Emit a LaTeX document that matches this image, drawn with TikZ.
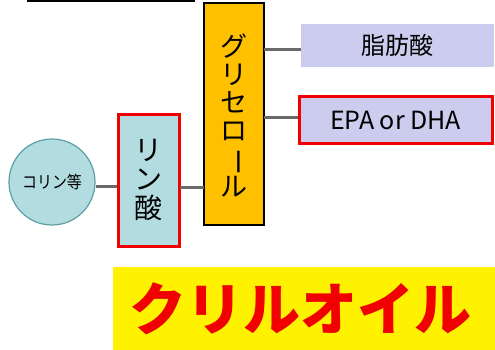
\documentclass[tikz,border=0pt]{standalone}
\usepackage{fontspec}
\setmainfont{Noto Sans CJK JP}
\definecolor{orangebox}{RGB}{255,192,0}
\definecolor{lav}{RGB}{204,204,238}
\definecolor{teal}{RGB}{178,220,224}
\definecolor{tealedge}{RGB}{90,160,165}
\definecolor{conn}{RGB}{105,105,105}
\definecolor{kred}{RGB}{240,0,0}
\tikzset{
  conn/.style={draw=conn,line width=3pt},
}
\begin{document}
\begin{tikzpicture}[x=1pt,y=-1pt]
\useasboundingbox (0,0) rectangle (495,350);
% top black line
\draw[line width=2pt] (27,1) -- (195,1);
% glycerol
\filldraw[fill=orangebox,draw=black,line width=1.2pt] (204,3) rectangle (264,225);
\node[inner sep=0,font=\fontsize{27}{30}\selectfont,align=center] (gly) at (234,115)
  {グ\\[-2pt]リ\\[-2pt]セ\\[-2pt]ロ\\[-2pt]\rotatebox[origin=c]{-90}{ー}\\[-2pt]ル};
\coordinate (glyA) at (264,50);
\coordinate (glyB) at (264,118);
\coordinate (glyC) at (204,187);
% fatty acid
\fill[lav] (301,24) rectangle (494,67);
\node[font=\fontsize{24}{28}\selectfont] (fa) at (397.5,45.5) {脂肪酸};
\coordinate (faL) at (301,50);
% EPA or DHA
\filldraw[fill=lav,draw=kred,line width=3pt] (299,97) rectangle (492,143);
\node[font=\fontsize{25}{28}\selectfont] (epa) at (395.5,120) {EPA or DHA};
\coordinate (epaL) at (298,118);
% phosphoric acid
\filldraw[fill=teal,draw=kred,line width=3pt] (118,115) rectangle (179,246);
\node[inner sep=0,font=\fontsize{28}{30}\selectfont,align=center] (pa) at (148.5,180)
  {リ\\[-1pt]ン\\[-1pt]酸};
\coordinate (paL) at (117,186);
\coordinate (paR) at (180,187);
% choline
\node[circle,minimum size=86pt,inner sep=0,fill=teal,draw=tealedge,line width=1.2pt,
  font=\fontsize{17}{20}\selectfont] (ch) at (52,182) {\scalebox{0.88}[1]{コリン等}};
% connectors
\draw[conn] (glyA) -- (faL);
\draw[conn] (glyB) -- (epaL);
\draw[conn] (paR) -- (glyC);
\draw[conn] (ch.east |- paL) -- (paL);
% title
\fill[yellow] (113,267) rectangle (495,350);
\node[text=kred,font=\fontsize{57}{62}\selectfont\bfseries] (title) at (300,309) {クリルオイル};
\end{tikzpicture}
\end{document}
